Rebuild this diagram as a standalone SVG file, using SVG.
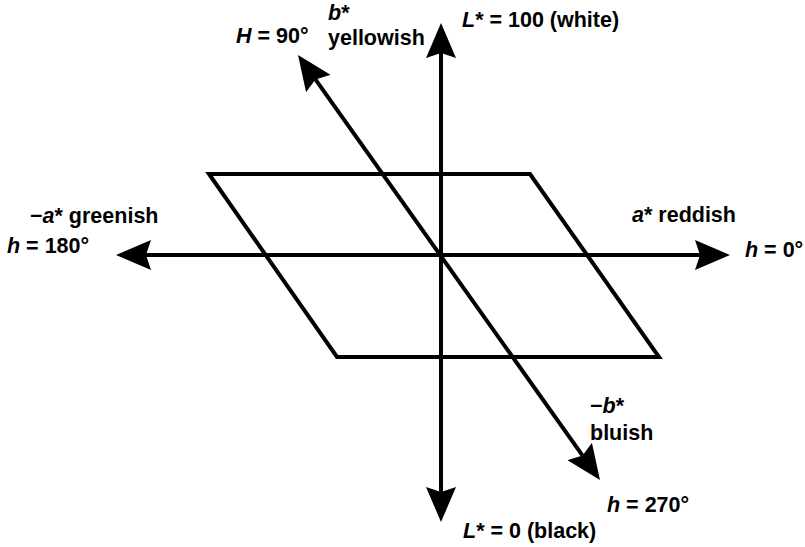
<svg xmlns="http://www.w3.org/2000/svg" width="805" height="547" viewBox="0 0 805 547">
<style>
text{font-family:"Liberation Sans",Arial,sans-serif;font-weight:bold;font-size:21.5px;fill:#000}
.i{font-style:italic}
.ax{stroke:#000;stroke-width:4;fill:none;marker-start:url(#ah);marker-end:url(#ah)}
.pl{stroke:#000;stroke-width:4;fill:none;stroke-linejoin:miter}
</style>
<defs>
<marker id="ah" markerUnits="userSpaceOnUse" viewBox="0 0 35 30" refX="5" refY="15" markerWidth="35" markerHeight="30" orient="auto-start-reverse">
<path d="M0,0 L35,15 L0,30 L5,15 Z" fill="#000"/>
</marker>
</defs>
<g id="plane">
<polygon class="pl" points="209,174 530,174 659,357 337,357"/>
</g>
<g id="connectors">
<line id="a-axis" class="ax" x1="146" y1="255" x2="700" y2="255"/>
<line id="L-axis" class="ax" x1="441" y1="53" x2="441" y2="492"/>
<line id="b-axis" class="ax" x1="315.4" y1="79.4" x2="582.6" y2="455.6"/>
</g>
<g id="label-L100"><text x="462" y="27"><tspan class="i">L</tspan>* = 100 (white)</text></g>
<g id="label-H90"><text x="236" y="43"><tspan class="i">H</tspan> = 90°</text></g>
<g id="label-b"><text x="328" y="20"><tspan class="i">b</tspan>*</text><text x="328" y="45">yellowish</text></g>
<g id="label-minus-a"><text x="30" y="223">−<tspan class="i">a</tspan>* greenish</text></g>
<g id="label-h180"><text x="7" y="253"><tspan class="i">h</tspan> = 180°</text></g>
<g id="label-a"><text x="632" y="222"><tspan class="i">a</tspan>* reddish</text></g>
<g id="label-h0"><text x="745" y="257"><tspan class="i">h</tspan> = 0°</text></g>
<g id="label-minus-b"><text x="590" y="413">−<tspan class="i">b</tspan>*</text><text x="590" y="440">bluish</text></g>
<g id="label-h270"><text x="607" y="512"><tspan class="i">h</tspan> = 270°</text></g>
<g id="label-L0"><text x="463" y="538"><tspan class="i">L</tspan>* = 0 (black)</text></g>
</svg>
